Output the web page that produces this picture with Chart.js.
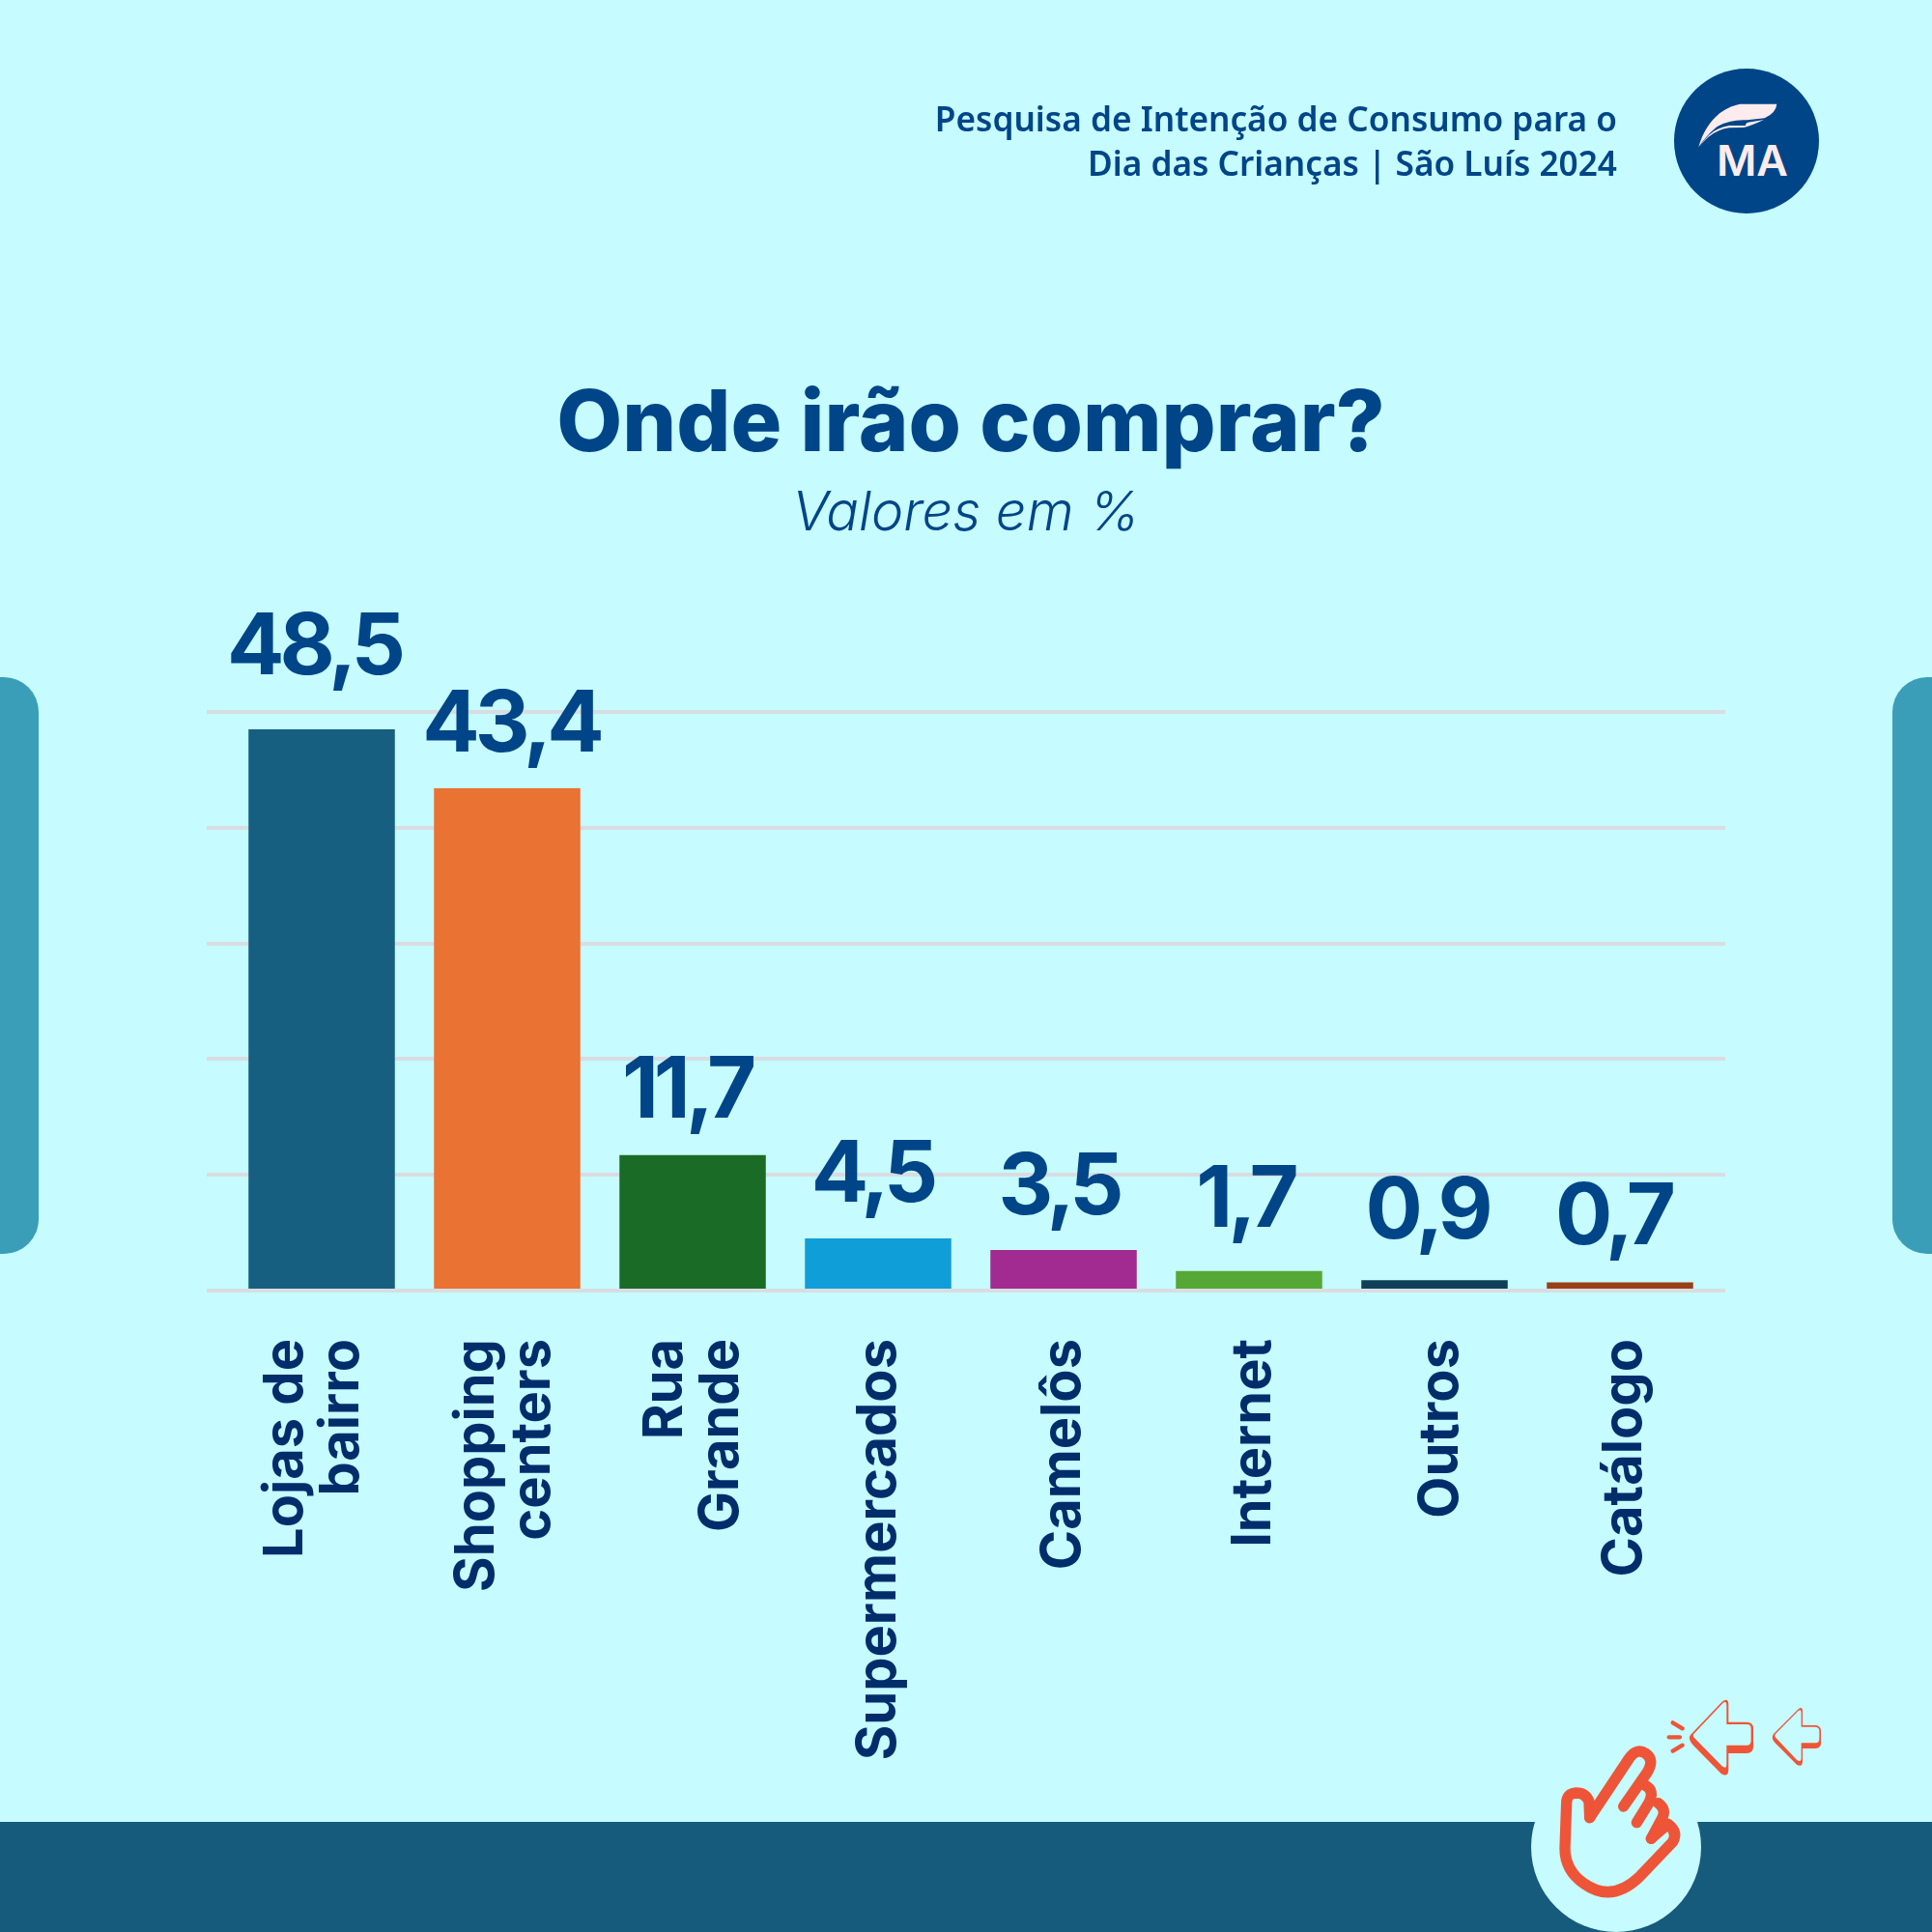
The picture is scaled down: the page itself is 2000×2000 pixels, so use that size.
<!DOCTYPE html>
<html lang="pt-BR"><head><meta charset="utf-8">
<script src="https://cdn.jsdelivr.net/npm/chart.js@4"></script>
<style>
html,body{margin:0;padding:0;background:#c6fbff;width:2000px;height:2000px;overflow:hidden}
#wrap{position:relative;width:2000px;height:2000px}
#decor,#c{position:absolute;left:0;top:0}
#head{position:absolute;right:326px;top:99px;text-align:right;font:600 35.2px/46px "Noto Sans",sans-serif;color:#004587;white-space:nowrap}
</style></head><body>
<div id="wrap">
<svg id="decor" width="2000" height="2000" viewBox="0 0 2000 2000">
  <path d="M0 701H4A36 36 0 0 1 40 737V1262A36 36 0 0 1 4 1298H0Z" fill="#3a9eb8"/>
  <path d="M2000 701H1995A36 36 0 0 0 1959 737V1262A36 36 0 0 0 1995 1298H2000Z" fill="#3a9eb8"/>
  <rect x="0" y="1886" width="2000" height="114" fill="#165a7c"/>
  <circle cx="1673" cy="1912" r="88" fill="#c6fbff"/>
  <circle cx="1808" cy="146" r="75" fill="#004587"/>
  <g transform="translate(1730 70) scale(.33333)" fill="#fdecee">
    <path d="M85 247C105 175 150 125 215 113L328 113Q326 140 290 157L235 163Q180 160 140 185Q105 215 85 247Z"/>
    <path d="M88 245Q125 195 180 187L225 186Q245 182 288 162L238 170Q228 175 232 180L180 180Q125 188 88 245Z"/>
  </g>
  <text x="1777" y="182" font-family="Inter" font-weight="600" font-size="44" textLength="74" lengthAdjust="spacingAndGlyphs" fill="#fdecee">MA</text>
  <g transform="translate(1500 1720) scale(.33333)">
    <g fill="none" stroke="#ee5538" stroke-width="34" stroke-linecap="round" stroke-linejoin="round">
      <path d="M437 485L560 300Q583 268 610 285Q640 305 615 345L542 450"/>
      <path d="M437 485L435 435Q425 408 395 408Q365 410 365 440L360 580Q360 650 420 690Q505 750 590 670L695 560Q712 530 680 505L628 550"/>
      <path d="M610 385Q640 400 620 440L583 500"/>
      <path d="M650 440Q678 460 660 490L628 550"/>
    </g>
    <g fill="none" stroke="#ee5538" stroke-width="13" stroke-linecap="round">
      <path d="M695 190L725 208M683 235H717M695 278L725 260"/>
    </g>
    <path d="M750 228L848 125Q868 110 868 135V188H925Q945 188 945 208V265Q945 285 925 285H868V335Q868 362 845 348L760 262Q740 240 750 228Z" fill="#ee5538"/>
    <path d="M760 225L850 130Q862 120 862 135V195H925Q938 195 938 208V245Q938 260 925 260H862V320Q862 335 848 325L765 240Q755 232 760 225Z" fill="#c6fbff"/>
    <path d="M1008 225L1085 148Q1098 138 1098 155V198H1135Q1155 198 1155 215V255Q1155 270 1135 270H1098V310Q1098 330 1080 320L1015 255Q998 238 1008 225Z" fill="#ee5538"/>
    <path d="M1014 225L1085 153Q1094 146 1094 158V203H1135Q1150 203 1150 215V242Q1150 253 1135 253H1094V300Q1094 315 1080 305L1018 240Q1008 232 1014 225Z" fill="#c6fbff"/>
  </g>
</svg>
<canvas id="c" width="2000" height="2000"></canvas>
<div id="head">Pesquisa de Intenção de Consumo para o<br>Dia das Crianças | São Luís 2024</div>
</div>
<script>
const categories = [["Lojas de","bairro"],["Shopping","centers"],["Rua","Grande"],"Supermercados","Camelôs","Internet","Outros","Catálogo"];
const values = [48.5,43.4,11.7,4.5,3.5,1.7,0.9,0.7];
const barColors = ["#165f80","#ea7233","#1a6b25","#109ed8","#a12b90","#55a835","#0f4058","#9a4016"];
const valueLabels = ["48,5","43,4","11,7","4,5","3,5","1,7","0,9","0,7"];

const INK="#004587", GRID="#d9dde2";
const labelLift=[57,38,39,38,37,46,43,40];
const labelShift=[-8,4,-6,-6,-5,-4,-8,-7];
const tickShift=[-37,-31,-28,1,0,5,7,5];

const valueLabelPlugin={id:"valueLabels",
  beforeDraw(chart){
    if(chart.$shifted) return;
    chart.scales.x.getLabelItems(chart.chartArea).forEach((it,i)=>{it.textOffset+=tickShift[i]});
    chart.titleBlock.left+=10;
    chart.$shifted=true;
  },
  afterDatasetsDraw(chart){
    const ctx=chart.ctx, bars=chart.getDatasetMeta(0).data;
    ctx.save();
    ctx.font='700 88px Inter';
    ctx.letterSpacing='-5px';
    ctx.fillStyle=INK; ctx.textAlign='center'; ctx.textBaseline='alphabetic';
    bars.forEach((b,i)=>ctx.fillText(valueLabels[i],b.x+labelShift[i],b.y-labelLift[i]));
    ctx.restore();
  }
};

new Chart(document.getElementById("c"),{
  type:"bar",
  plugins:[valueLabelPlugin],
  data:{labels:categories,datasets:[{data:values,backgroundColor:barColors,borderWidth:0,barPercentage:1,categoryPercentage:151.5/192}]},
  options:{
    responsive:false,animation:false,
    layout:{autoPadding:false,padding:0},
    plugins:{
      legend:{display:false},tooltip:{enabled:false},
      title:{display:true,text:"Onde irão comprar?",color:INK,font:{family:"Inter",size:88,weight:"800"},padding:{top:388,bottom:5}},
      subtitle:{display:true,text:"Valores em %",color:INK,font:{family:"Inter",size:56,weight:"300",style:"italic"},padding:{top:0,bottom:171.2}}
    },
    scales:{
      x:{
        afterFit(s){s.height=664},
        grid:{display:false},
        border:{display:true,color:GRID,width:4,z:1},
        ticks:{autoSkip:false,minRotation:90,maxRotation:90,padding:42,color:"#012d6b",font:{family:"Inter",size:56,weight:"700",lineHeight:1.04}}
      },
      y:{
        min:0,max:50,position:"left",
        afterFit(s){s.width=237},
        border:{display:false},
        grid:{color:GRID,lineWidth:4,tickLength:23,drawTicks:true},
        ticks:{stepSize:10,display:false}
      },
      y2:{
        min:0,max:50,position:"right",
        afterFit(s){s.width=227},
        border:{display:false},
        grid:{color:GRID,lineWidth:4,tickLength:13,drawTicks:true,drawOnChartArea:false},
        ticks:{stepSize:10,display:false}
      }
    }
  }
});
</script>
</body></html>
